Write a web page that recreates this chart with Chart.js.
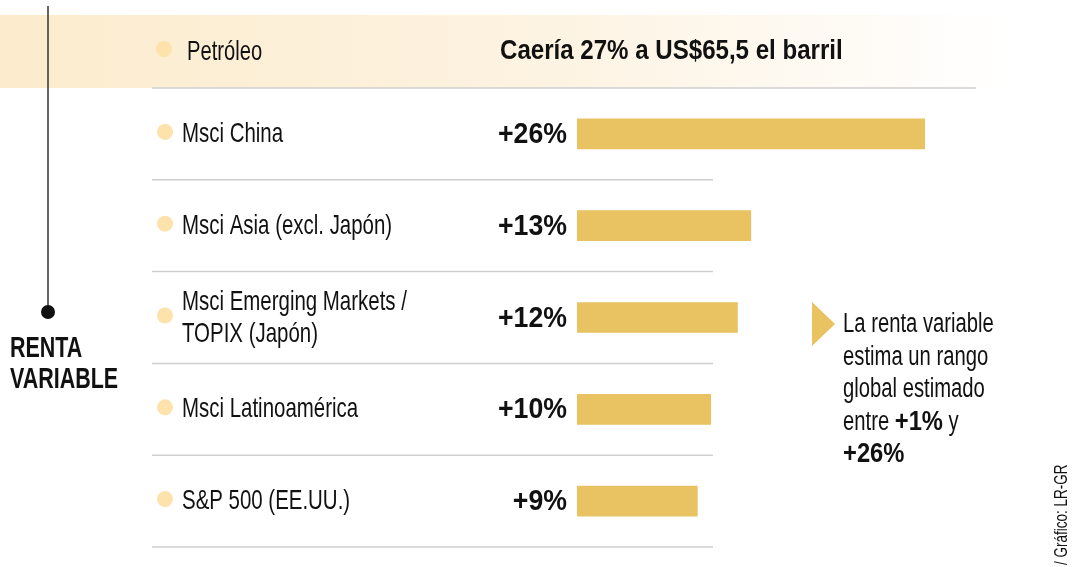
<!DOCTYPE html>
<html>
<head>
<meta charset="utf-8">
<script src="https://cdn.jsdelivr.net/npm/chart.js@4"></script>
<style>
  html, body { margin: 0; padding: 0; background: #fff; }
  #wrap { width: 1080px; height: 567px; }
</style>
</head>
<body>
<div id="wrap"><canvas id="chart" width="1080" height="567"></canvas></div>
<script>
'use strict';

// Data
let oilLabel = 'Petróleo';
let oilNote = 'Caería 27% a US$65,5 el barril';
let categories = [
  'Msci China',
  'Msci Asia (excl. Japón)',
  ['Msci Emerging Markets /', 'TOPIX (Japón)'],
  'Msci Latinoamérica',
  'S&P 500 (EE.UU.)'
];
let values = [26, 13, 12, 10, 9];
let valueLabels = ['+26%', '+13%', '+12%', '+10%', '+9%'];
let sideTitle = ['RENTA', 'VARIABLE'];
let noteLines = [
  [['La renta variable', false]],
  [['estima un rango', false]],
  [['global estimado', false]],
  [['entre ', false], ['+1%', true], [' y', false]],
  [['+26%', true]]
];
let credit = '/ Gráfico: LR-GR';

const FONT = '"Liberation Sans", Arial, sans-serif';
const BAR = '#e9c262';
const DOT = '#fde3ab';
const RULE = '#cfcfcf';
const INK = '#111111';

// draws condensed text (horizontal squeeze), baseline alphabetic
function txt(ctx, s, x, y, size, bold, align, sx) {
  ctx.save();
  ctx.font = (bold ? 'bold ' : '') + size + 'px ' + FONT;
  let w = ctx.measureText(s).width * sx;
  let x0 = align === 'right' ? x - w : (align === 'center' ? x - w / 2 : x);
  ctx.translate(x0, y);
  ctx.scale(sx, 1);
  ctx.textAlign = 'left';
  ctx.textBaseline = 'alphabetic';
  ctx.fillStyle = INK;
  ctx.fillText(s, 0, 0);
  ctx.restore();
  return w;
}

function dot(ctx, x, y, r, color) {
  ctx.beginPath();
  ctx.arc(x, y, r, 0, Math.PI * 2);
  ctx.fillStyle = color;
  ctx.fill();
}

let decor = {
  id: 'decor',
  beforeDraw(chart) {
    let ctx = chart.ctx;
    let area = chart.chartArea;
    let y = chart.scales.y;
    ctx.save();
    // top band behind the oil row
    let g = ctx.createLinearGradient(0, 0, 1010, 0);
    g.addColorStop(0, 'rgba(252,236,205,1)');
    g.addColorStop(0.55, 'rgba(253,243,226,1)');
    g.addColorStop(1, 'rgba(255,255,255,1)');
    ctx.fillStyle = g;
    ctx.fillRect(0, 15, 1080, area.top - 15);

    // row separators
    ctx.strokeStyle = RULE;
    ctx.lineWidth = 1.5;
    ctx.beginPath();
    ctx.moveTo(152, area.top);
    ctx.lineTo(976, area.top);
    ctx.stroke();
    for (let i = 0; i < categories.length; i++) {
      let yy = i < categories.length - 1
        ? (y.getPixelForValue(i) + y.getPixelForValue(i + 1)) / 2
        : area.bottom;
      ctx.beginPath();
      ctx.moveTo(152, yy);
      ctx.lineTo(713, yy);
      ctx.stroke();
    }

    // timeline line + dot
    ctx.strokeStyle = '#333';
    ctx.lineWidth = 1.5;
    ctx.beginPath();
    ctx.moveTo(48, 6);
    ctx.lineTo(48, 310);
    ctx.stroke();
    dot(ctx, 48, 312, 7, '#111');
    ctx.restore();
  },
  afterDraw(chart) {
    let ctx = chart.ctx;
    let area = chart.chartArea;
    let y = chart.scales.y;
    let x = chart.scales.x;

    // oil row
    let oy = area.top - 39;
    dot(ctx, 164, oy, 8, DOT);
    txt(ctx, oilLabel, 187, oy + 11, 28, false, 'left', 0.72);
    txt(ctx, oilNote, 500, oy + 10, 28, true, 'left', 0.86);

    // category rows
    for (let i = 0; i < categories.length; i++) {
      let cy = y.getPixelForValue(i);
      dot(ctx, 165, cy - 2, 8, DOT);
      let lab = categories[i];
      if (Array.isArray(lab)) {
        txt(ctx, lab[0], 182, cy - 8, 28, false, 'left', 0.73);
        txt(ctx, lab[1], 182, cy + 24, 28, false, 'left', 0.73);
      } else {
        txt(ctx, lab, 182, cy + 8, 28, false, 'left', 0.73);
      }
      txt(ctx, valueLabels[i], x.getPixelForValue(0) - 10, cy + 9, 29, true, 'right', 0.92);
    }

    // side title
    txt(ctx, sideTitle[0], 10, 357, 29, true, 'left', 0.74);
    txt(ctx, sideTitle[1], 10, 388, 29, true, 'left', 0.74);

    // note with arrow
    ctx.save();
    ctx.beginPath();
    ctx.moveTo(812, 302);
    ctx.lineTo(835, 324);
    ctx.lineTo(812, 346);
    ctx.closePath();
    ctx.fillStyle = BAR;
    ctx.fill();
    ctx.restore();
    let base = 332;
    for (let l = 0; l < noteLines.length; l++) {
      let xx = 843;
      for (let p of noteLines[l]) {
        xx += txt(ctx, p[0], xx, base + l * 32.5, 27, p[1], 'left', p[1] ? 0.88 : 0.75);
      }
    }

    // credit, rotated
    ctx.save();
    ctx.translate(1067, 565);
    ctx.rotate(-Math.PI / 2);
    txt(ctx, credit, 0, 0, 18, false, 'left', 0.75);
    ctx.restore();
  }
};

let canvasElem = document.getElementById('chart');

let chartObj = {
  type: 'bar',
  data: {
    labels: categories,
    datasets: [{
      data: values,
      backgroundColor: BAR,
      barThickness: 30,
      borderSkipped: false
    }]
  },
  options: {
    indexAxis: 'y',
    responsive: false,
    animation: false,
    devicePixelRatio: 1,
    layout: {
      padding: { left: 577, right: 35, top: 88, bottom: 20 }
    },
    plugins: {
      legend: { display: false },
      tooltip: { enabled: false }
    },
    scales: {
      x: { display: false, min: 0, max: 35 },
      y: { display: false }
    }
  },
  plugins: [decor]
};

new Chart(canvasElem, chartObj);
</script>
</body>
</html>
